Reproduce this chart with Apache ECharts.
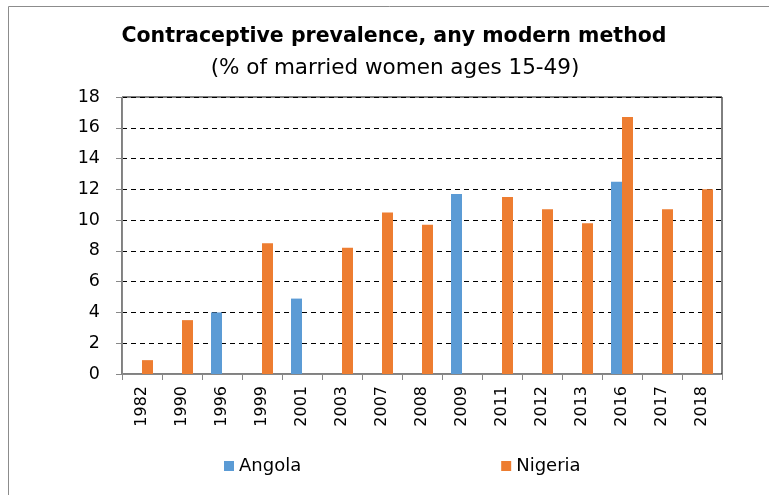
<!DOCTYPE html>
<html><head><meta charset="utf-8">
<script src="https://cdn.jsdelivr.net/npm/echarts@6/dist/echarts.min.js"></script>
<style>html,body{margin:0;padding:0;background:#fff}#c{width:769px;height:495px}</style>
</head><body><div id="c"></div>
<script>
const years = ['1982','1990','1996','1999','2001','2003','2007','2008','2009','2011','2012','2013','2016','2017','2018'];
const angola = [null,null,4.0,null,4.9,null,null,null,11.7,null,null,null,12.5,null,null];
const nigeria = [0.9,3.5,null,8.5,null,8.2,10.5,9.7,null,11.5,10.7,9.8,16.7,10.7,12.0];
const yTicks = {min:0,max:18,interval:2};
const titleText = 'Contraceptive prevalence, any modern method';
const subtitleText = '(% of married women ages 15-49)';

const chart = echarts.init(document.getElementById('c'), null, {renderer:'canvas'});
const font = 'DejaVu Sans';
chart.setOption({
  animation:false,
  backgroundColor:'#fff',
  graphic:[{type:'rect',shape:{x:8.5,y:6.5,width:820,height:600},style:{fill:'none',stroke:'#8c8c8c',lineWidth:1},z:-1}],
  title:[
    {text:titleText,top:26,padding:0,left:394,textAlign:'center',textStyle:{fontFamily:font,fontWeight:'bold',fontSize:20.5,color:'#000'}},
    {text:subtitleText,top:57,padding:0,left:395,textAlign:'center',textStyle:{fontFamily:font,fontWeight:'normal',fontSize:21.5,color:'#000'}}
  ],
  legend:{
    data:['Angola','Nigeria'],bottom:20,left:224,padding:0,itemGap:200,itemWidth:10,itemHeight:10,icon:'rect',
    textStyle:{fontFamily:font,fontSize:18,color:'#000'}
  },
  grid:{left:122,right:47,top:97,bottom:121,show:true,borderColor:'#000',borderWidth:1,containLabel:false},
  xAxis:{type:'category',data:years,
    axisLine:{lineStyle:{color:'#888'}},
    axisTick:{show:true,alignWithLabel:false,length:6,lineStyle:{color:'#888'}},
    axisLabel:{rotate:90,margin:12,fontFamily:font,fontSize:16,color:'#000',interval:0}},
  yAxis:{type:'value',min:yTicks.min,max:yTicks.max,interval:yTicks.interval,
    axisLine:{show:true,lineStyle:{color:'#888'}},
    axisTick:{show:true,length:6,lineStyle:{color:'#888'}},
    axisLabel:{margin:22,fontFamily:font,fontSize:17.5,color:'#000'},
    splitLine:{show:true,lineStyle:{color:'#000',type:[5,4],width:1}}},
  series:[
    {name:'Angola',type:'bar',data:angola,barWidth:11,barGap:'0%',itemStyle:{color:'#5B9BD5'}},
    {name:'Nigeria',type:'bar',data:nigeria,barWidth:11,barGap:'0%',itemStyle:{color:'#ED7D31'}}
  ]
});
</script></body></html>
